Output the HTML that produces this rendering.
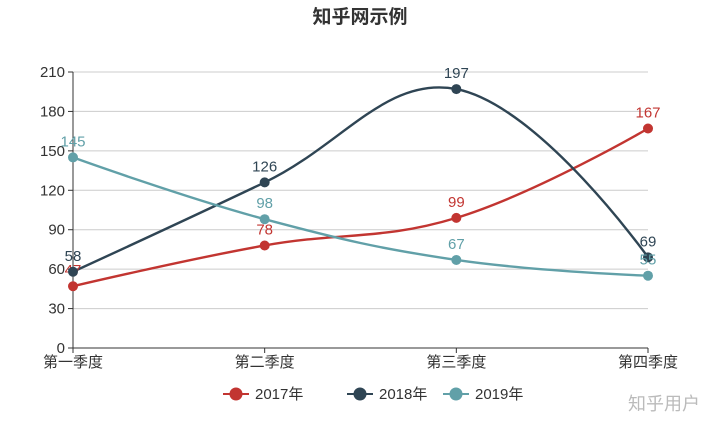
<!DOCTYPE html>
<html><head><meta charset="utf-8"><style>
body{margin:0;background:#fff;width:720px;height:420px;overflow:hidden;font-family:"Liberation Sans","Noto Sans CJK SC",sans-serif}
</style></head><body>
<svg id="c" width="720" height="420" xmlns="http://www.w3.org/2000/svg" font-family="Liberation Sans, Noto Sans CJK SC, sans-serif">
<text x="360" y="23" text-anchor="middle" font-size="19" font-weight="bold" fill="#333">知乎网示例</text>
<g id="grid"></g><g id="series"></g><g id="legend"></g>
<text x="700" y="410" text-anchor="end" font-size="18" fill="#bbb">知乎用户</text>
</svg>
<script>
const categories=["第一季度","第二季度","第三季度","第四季度"];
const yTicks=[0,30,60,90,120,150,180,210];
const seriesNames=["2017年","2018年","2019年"];
const s2017=[47,78,99,167];
const s2018=[58,126,197,69];
const s2019=[145,98,67,55];
const colors=["#c23531","#2f4554","#61a0a8"];
const data=[s2017,s2018,s2019];
const X0=73,X1=648,Y0=348,Y1=72,YMAX=210;
const xs=i=>X0+(X1-X0)*i/(categories.length-1);
const ys=v=>Y0-(Y0-Y1)*v/YMAX;
const NS="http://www.w3.org/2000/svg";
function mk(t,a,p){const e=document.createElementNS(NS,t);for(const k in a)e.setAttribute(k,a[k]);p.appendChild(e);return e;}
const g=document.getElementById('grid');
yTicks.forEach(v=>{
 if(v>0){const l=mk('line',{x1:X0,x2:X1,y1:ys(v),y2:ys(v),stroke:'#ccc'},g);
 
 }
 const tk=mk('line',{x1:X0-5,x2:X0,y1:ys(v),y2:ys(v),stroke:'#333'},g);
 
 
 const t=mk('text',{x:X0-8,y:ys(v)+5,'text-anchor':'end','font-size':15,fill:'#333'},g);t.textContent=v;
 
 
});
const ya=mk('line',{x1:X0,x2:X0,y1:Y1,y2:Y0,stroke:'#333'},g);


const xa=mk('line',{x1:X0,x2:X1,y1:Y0,y2:Y0,stroke:'#333'},g);


categories.forEach((c,i)=>{
 const tk=mk('line',{x1:xs(i),x2:xs(i),y1:Y0,y2:Y0+5,stroke:'#333'},g);
 
 
 const t=mk('text',{x:xs(i),y:Y0+19,'text-anchor':'middle','font-size':15,fill:'#333'},g);t.textContent=c;
 
 
});
const sg=document.getElementById('series');
function path(vals){
 const p=vals.map((v,i)=>[xs(i),ys(v)]);const S=0.4;
 const cps=p.map((pt,i)=>{
  if(i==0||i==p.length-1)return[pt,pt];
  const pr=p[i-1],nx=p[i+1];const vx=(nx[0]-pr[0])*S,vy=(nx[1]-pr[1])*S;
  const d0=Math.hypot(pt[0]-pr[0],pt[1]-pr[1]),d1=Math.hypot(nx[0]-pt[0],nx[1]-pt[1]);const r=d0/(d0+d1);
  return[[pt[0]-vx*r,pt[1]-vy*r],[pt[0]+vx*(1-r),pt[1]+vy*(1-r)]];
 });
 let d='M'+p[0].join(',');
 for(let i=1;i<p.length;i++)d+=' C'+cps[i-1][1].join(',')+' '+cps[i][0].join(',')+' '+p[i].join(',');
 return d;
}
data.forEach((vals,si)=>{
 const l=mk('path',{d:path(vals),fill:'none',stroke:colors[si],'stroke-width':2.4},sg);
 
 
});
data.forEach((vals,si)=>{
 vals.forEach((v,i)=>{
  const c=mk('circle',{cx:xs(i),cy:ys(v),r:5,fill:colors[si]},sg);
  
  
  const t=mk('text',{x:xs(i),y:ys(v)-11,'text-anchor':'middle','font-size':15,fill:colors[si]},sg);t.textContent=v;
  
  
 });
});
const lg=document.getElementById('legend');
const lx=[223,347,443];
seriesNames.forEach((n,i)=>{
 const gi=mk('g',{},lg);
 
 
 mk('line',{x1:lx[i],x2:lx[i]+26,y1:394,y2:394,stroke:colors[i],'stroke-width':2},gi);
 mk('circle',{cx:lx[i]+13,cy:394,r:6.5,fill:colors[i]},gi);
 const t=mk('text',{x:lx[i]+32,y:399,'font-size':15,fill:'#333'},gi);t.textContent=n;
});
</script>
</body></html>
